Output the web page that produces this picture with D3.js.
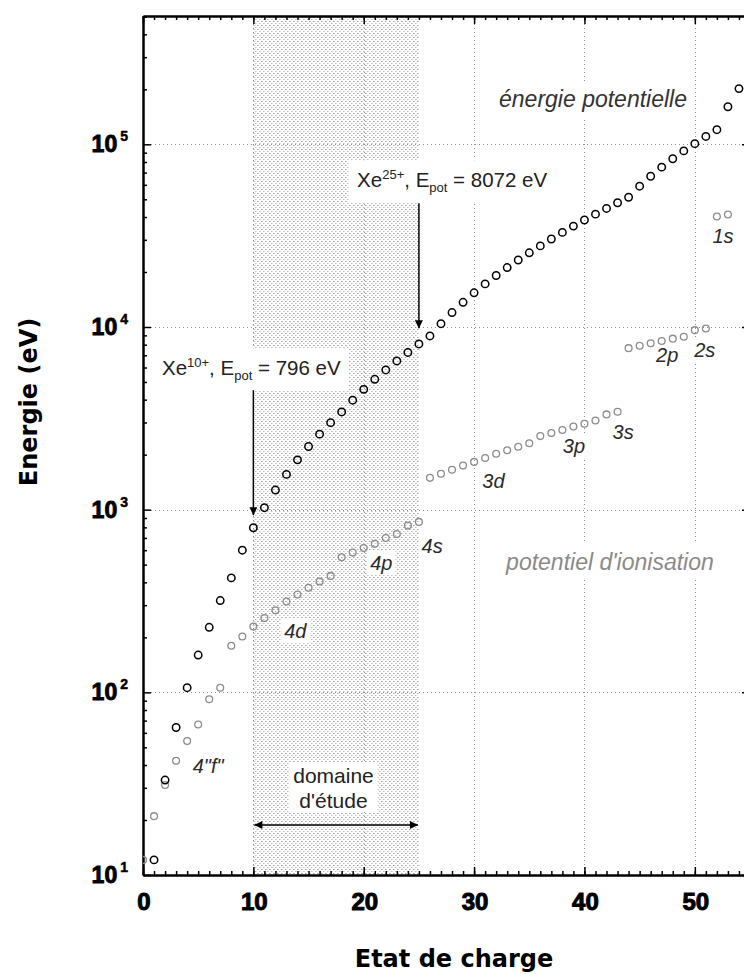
<!DOCTYPE html>
<html><head><meta charset="utf-8">
<script src="https://cdn.jsdelivr.net/npm/d3@7"></script>
<style>html,body{margin:0;padding:0;background:#fff;overflow:hidden}</style>
</head><body>
<svg id="chart" width="744" height="974"></svg>
<script>
// ---- data ----
const ipCharge = [0,1,2,3,4,5,6,7,8,9,10,11,12,13,14,15,16,17,18,19,20,21,22,23,24,25,26,27,28,29,30,31,32,33,34,35,36,37,38,39,40,41,42,43,44,45,46,47,48,49,50,51,52,53];
const ionizationPotential = [12.1,21.0,31.1,42.2,54.1,66.7,91.6,106,180,202,229,255,281,314,343,374,404,434,549,582,616,650,700,736,818,857,1493,1571,1653,1742,1826,1919,2023,2113,2209,2308,2527,2624,2731,2852,2951,3074,3323,3434,7660,7889,8144,8382,8630,8834,9606,9811,40272,41300];
const potCharge = [1,2,3,4,5,6,7,8,9,10,11,12,13,14,15,16,17,18,19,20,21,22,23,24,25,26,27,28,29,30,31,32,33,34,35,36,37,38,39,40,41,42,43,44,45,46,47,48,49,50,51,52,53,54];
const potentialEnergy = [12.1,33.1,64.2,106,160,227,318,423,600,796,1025,1280,1560,1874,2217,2590,2994,3427,3975,4556,5170,5819,6518,7254,8072,8929,10422,11993,13646,15388,17214,19133,21156,23269,25478,27786,30313,32937,35668,38520,41471,44545,47868,51302,58962,66851,74995,83377,92007,100841,110447,120258,160530,201830];
const xTickValues = [0,10,20,30,40,50];
const yTickExponents = [1,2,3,4,5];
const shellLabels = ["1s","2s","2p","3s","3p","3d","4s","4p","4d","4\"f\""];
const shellLabelQ = [52.55,50.9,47.5,43.5,39.05,31.75,26.2,21.6,13.8,5.9];
const shellLabelE = [28700,6820,6410,2430,2040,1310,578,467,198,36.1];
const studyDomain = [10,25];
const xe25 = {q:25, E:8072, sup:"25+", textQ:19.4, textE:58200, arrowFrom:47500, arrowTo:9840};
const xe10 = {q:10, E:796, sup:"10+", textQ:1.72, textE:5440, arrowFrom:4510, arrowTo:933};
const domaineText = ["domaine","d'étude"];
const domaineQ = 17.26, domaineE = [31.8, 23.3], domaineArrowE = 18.8;
const potLabel = {text:"énergie potentielle", q:32.26, E:159400};
const ipLabel = {text:"potentiel d'ionisation", q:32.9, E:467};

// ---- layout ----
const L = 143, R = 750, T = 16, B = 875;
const x = d3.scaleLinear([0,55],[L,R]);
const y = d3.scaleLog([10,5.04e5],[B,T]);
const svg = d3.select("#chart");
const defs = svg.append("defs");
const pat = defs.append("pattern").attr("id","dots").attr("patternUnits","userSpaceOnUse")
  .attr("width",4).attr("height",4).attr("x",x(10)).attr("y",T);
pat.append("rect").attr("x",0).attr("y",1).attr("width",1).attr("height",1).attr("fill","#6e6e6e");
pat.append("rect").attr("x",2).attr("y",3).attr("width",1).attr("height",1).attr("fill","#9a9a9a");
defs.append("marker").attr("id","arr").attr("viewBox","0 0 10 10").attr("refX",10).attr("refY",5)
  .attr("markerUnits","userSpaceOnUse").attr("markerWidth",11).attr("markerHeight",8)
  .attr("orient","auto-start-reverse")
  .append("path").attr("d","M0,0L10,5L0,10z").attr("fill","#000");
defs.append("clipPath").attr("id","plotclip").append("rect").attr("x",L).attr("y",T).attr("width",R-L).attr("height",B-T);

// shading
svg.append("rect").attr("x",x(studyDomain[0])).attr("y",T)
  .attr("width",x(studyDomain[1])-x(studyDomain[0])).attr("height",B-T).attr("fill","url(#dots)");

// gridlines
const grid = svg.append("g").attr("stroke","#8f8f8f").attr("stroke-width",1).attr("stroke-dasharray","1,3");
grid.selectAll("line.v").data([10,20,30,40,50]).join("line")
  .attr("x1",d=>Math.round(x(d))+0.5).attr("x2",d=>Math.round(x(d))+0.5).attr("y1",T).attr("y2",B);
grid.selectAll("line.h").data([1e2,1e3,1e4,1e5]).join("line")
  .attr("y1",d=>Math.round(y(d))+0.5).attr("y2",d=>Math.round(y(d))+0.5).attr("x1",L).attr("x2",R);

// annotations with white boxes
const ann = svg.append("g");
function boxed(sel, px, py){
  const bb = sel.node().getBBox();
  ann.insert("rect", () => sel.node()).attr("x",bb.x-px).attr("y",bb.y-py)
    .attr("width",bb.width+2*px).attr("height",bb.height+2*py).attr("fill","#fff");
}
const ff = "'Liberation Sans', Arial, sans-serif";
function bigLabel(o, color){
  const t = ann.append("text").attr("x",x(o.q)).attr("y",y(o.E)).attr("font-family",ff)
    .attr("font-style","italic").attr("font-size",23).attr("fill",color).text(o.text);
  boxed(t,7,5);
}
bigLabel(potLabel,"#333");
bigLabel(ipLabel,"#8a8a8a");
shellLabels.forEach((s,i)=>{
  const t = ann.append("text").attr("x",x(shellLabelQ[i])).attr("y",y(shellLabelE[i]))
    .attr("text-anchor","middle").attr("font-family",ff).attr("font-style","italic")
    .attr("font-size",20).attr("fill","#2a2a2a").text(s);
  boxed(t,3,1);
});
function xeLabel(o){
  const t = ann.append("text").attr("x",x(o.textQ)).attr("y",y(o.textE)).attr("font-family",ff)
    .attr("font-size",20.5).attr("fill","#222");
  t.append("tspan").text("Xe");
  t.append("tspan").attr("font-size",13).attr("dy",-8).text(o.sup);
  t.append("tspan").attr("dy",8).text(", E");
  t.append("tspan").attr("font-size",13).attr("dy",5).text("pot");
  t.append("tspan").attr("dy",-5).text(" = " + o.E + " eV");
  boxed(t,8,7);
  ann.append("line").attr("x1",x(o.q)).attr("x2",x(o.q)).attr("y1",y(o.arrowFrom)).attr("y2",y(o.arrowTo))
    .attr("stroke","#000").attr("stroke-width",1.5).attr("marker-end","url(#arr)");
}
xeLabel(xe25);
xeLabel(xe10);
const dt = ann.append("g");
domaineText.forEach((s,i)=>{
  dt.append("text").attr("x",x(domaineQ)).attr("y",y(domaineE[i])).attr("text-anchor","middle")
    .attr("font-family",ff).attr("font-size",21).attr("fill","#222").text(s);
});
{
  const bb = dt.node().getBBox();
  dt.insert("rect",":first-child").attr("x",bb.x-4).attr("y",bb.y-2).attr("width",bb.width+8).attr("height",bb.height+2).attr("fill","#fff");
}
ann.append("line").attr("x1",x(studyDomain[0])+1).attr("x2",x(studyDomain[1])-1)
  .attr("y1",y(domaineArrowE)).attr("y2",y(domaineArrowE))
  .attr("stroke","#000").attr("stroke-width",1.5)
  .attr("marker-start","url(#arr)").attr("marker-end","url(#arr)");

// axes
const minorX = d3.range(0,56);
const minorY = [];
[1,2,3,4,5].forEach(e=>{ for(let m=2;m<=9;m++){ const v=m*Math.pow(10,e); if(v<=5.04e5) minorY.push(v);} });
const majorY = yTickExponents.map(e=>Math.pow(10,e));
function styleAxis(g){ g.select(".domain").attr("stroke","#000").attr("stroke-width",2);
  g.selectAll(".tick line").attr("stroke","#000").attr("stroke-width",1.5); g.selectAll("text").remove(); }
svg.append("g").attr("transform",`translate(0,${B})`).call(d3.axisBottom(x).tickValues(minorX).tickSize(-4).tickSizeOuter(0)).call(styleAxis);
svg.append("g").attr("transform",`translate(0,${B})`).call(d3.axisBottom(x).tickValues(xTickValues).tickSize(-8).tickSizeOuter(0)).call(styleAxis);
svg.append("g").attr("transform",`translate(0,${T})`).call(d3.axisTop(x).tickValues(minorX).tickSize(-4).tickSizeOuter(0)).call(styleAxis);
svg.append("g").attr("transform",`translate(0,${T})`).call(d3.axisTop(x).tickValues(xTickValues).tickSize(-8).tickSizeOuter(0)).call(styleAxis);
svg.append("g").attr("transform",`translate(${L},0)`).call(d3.axisLeft(y).tickValues(minorY).tickSize(-4).tickSizeOuter(0)).call(styleAxis);
svg.append("g").attr("transform",`translate(${L},0)`).call(d3.axisLeft(y).tickValues(majorY).tickSize(-8).tickSizeOuter(0)).call(styleAxis);
svg.append("g").attr("transform",`translate(${R},0)`).call(d3.axisRight(y).tickValues(minorY).tickSize(-4).tickSizeOuter(0)).call(styleAxis);
svg.append("g").attr("transform",`translate(${R},0)`).call(d3.axisRight(y).tickValues(majorY).tickSize(-8).tickSizeOuter(0)).call(styleAxis);

// tick labels
svg.append("g").selectAll("text").data(xTickValues).join("text")
  .attr("x",d=>x(d)+1).attr("y",B+35).attr("text-anchor","middle")
  .attr("font-family",ff).attr("font-weight","bold").attr("font-size",24)
  .attr("stroke","#000").attr("stroke-width",1).attr("fill","#000").text(d=>d);
const yl = svg.append("g").selectAll("text").data(yTickExponents).join("text")
  .attr("x",128).attr("y",d=>y(Math.pow(10,d))+8).attr("text-anchor","end")
  .attr("font-family",ff).attr("font-weight","bold").attr("font-size",23)
  .attr("stroke","#000").attr("stroke-width",0.9).attr("fill","#000");
yl.append("tspan").text("10");
yl.append("tspan").attr("dx",3).attr("dy",-11).attr("font-size",14).attr("stroke-width",0.5).text(d=>d);

// axis titles
svg.append("text").attr("x",454).attr("y",967).attr("text-anchor","middle")
  .attr("font-family","'DejaVu Sans', sans-serif").attr("font-weight","bold").attr("font-size",24).text("Etat de charge");
svg.append("text").attr("transform","translate(37,402) rotate(-90)").attr("text-anchor","middle")
  .attr("font-family","'DejaVu Sans', sans-serif").attr("font-weight","bold").attr("font-size",24).text("Energie (eV)");

// points
const pts = svg.append("g").attr("clip-path","url(#plotclip)");
pts.selectAll("circle.ip").data(ipCharge).join("circle").attr("class","ip")
  .attr("cx",(d)=>x(d)).attr("cy",(d,i)=>y(ionizationPotential[i])).attr("r",3.4)
  .attr("fill","none").attr("stroke","#8c8c8c").attr("stroke-width",1.3);
pts.selectAll("circle.pot").data(potCharge).join("circle").attr("class","pot")
  .attr("cx",(d)=>x(d)).attr("cy",(d,i)=>y(potentialEnergy[i])).attr("r",3.7)
  .attr("fill","none").attr("stroke","#000").attr("stroke-width",1.5);
</script>
</body></html>
